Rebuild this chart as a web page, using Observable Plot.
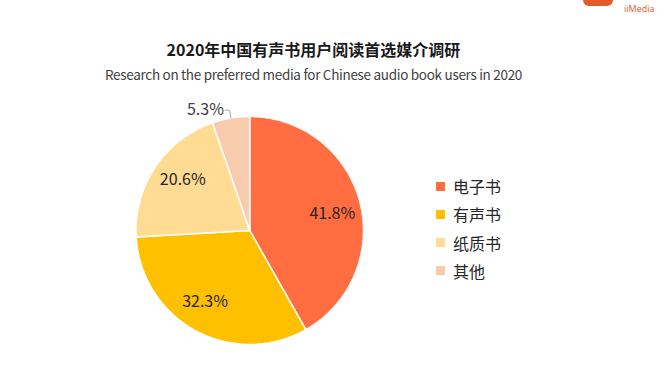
<!DOCTYPE html>
<html>
<head>
<meta charset="utf-8">
<script src="https://cdn.jsdelivr.net/npm/d3@7"></script>
<script src="https://cdn.jsdelivr.net/npm/@observablehq/plot@0.6"></script>
<style>
  html, body { margin: 0; padding: 0; background: #fff; }
  body { width: 669px; height: 370px; position: relative; overflow: hidden;
         font-family: "Noto Sans CJK SC", "Noto Sans", sans-serif; }
  .title { position: absolute; left: 0; width: 627px; top: 38px; text-align: center;
           font-size: 16px; line-height: 22px; font-weight: bold; color: #1a1a1a; }
  .subtitle { position: absolute; left: 0; width: 627px; top: 64px; text-align: center;
              font-size: 13.5px; line-height: 20px; letter-spacing: -0.3px; color: #404040; }
  #chart { position: absolute; left: 0; top: 90px; }
  .legend-item { position: absolute; left: 436px; height: 24px; display: flex; align-items: center;
                 font-size: 16px; color: #262626; }
  .legend-item .sw { width: 9px; height: 9px; margin-right: 8px; }
  .logo { position: absolute; left: 624px; top: 3px; font-size: 9px; line-height: 12px; color: #E2592B;
          font-family: "Open Sans", sans-serif; white-space: nowrap; }
  .logo-mark { position: absolute; left: 583px; top: -6px; width: 30px; height: 12px;
               background: #E2592B; border-radius: 6px; }
</style>
</head>
<body>
<div class="logo-mark"></div>
<div class="logo">iiMedia</div>
<div class="title">2020年中国有声书用户阅读首选媒介调研</div>
<div class="subtitle">Research on the preferred media for Chinese audio book users in 2020</div>
<div id="chart"></div>
<div id="legend"></div>
<script>
const categories = ["电子书", "有声书", "纸质书", "其他"];
const values = [41.8, 32.3, 20.6, 5.3];
const colors = ["#FF6D40", "#FFC000", "#FFDB94", "#F8CBAD"];
const labels = values.map(v => v.toFixed(1) + "%");

// build slice polygons (angle measured clockwise from top)
const total = d3.sum(values);
let acc = 0;
const slices = categories.map((c, i) => {
  const a0 = acc / total * 2 * Math.PI;
  acc += values[i];
  const a1 = acc / total * 2 * Math.PI;
  return {key: c, a0, a1, mid: (a0 + a1) / 2, label: labels[i], share: values[i] / total};
});
const pts = [];
for (const s of slices) {
  pts.push({key: s.key, x: 0, y: 0});
  const n = Math.max(2, Math.ceil((s.a1 - s.a0) / (Math.PI / 180)));
  for (let k = 0; k <= n; k++) {
    const a = s.a0 + (s.a1 - s.a0) * k / n;
    pts.push({key: s.key, x: Math.sin(a), y: Math.cos(a)});
  }
  pts.push({key: s.key, x: 0, y: 0});
}
const inside = slices.filter(s => s.share > 0.1).map(s => ({
  x: 0.74 * Math.sin(s.mid + 0.06), y: 0.74 * Math.cos(s.mid + 0.06), text: s.label
}));
const small = slices.filter(s => s.share <= 0.1);
const leader = [];
const outside = [];
small.forEach((s, i) => {
  const e = {x: Math.sin(s.mid), y: Math.cos(s.mid)};
  const m = {x: 1.07 * Math.sin(s.mid), y: 1.07 * Math.cos(s.mid)};
  const t = {x: m.x - 0.04, y: m.y};
  leader.push({g: i, ...e}, {g: i, ...m}, {g: i, ...t});
  outside.push({x: t.x - 0.01, y: t.y, text: s.label});
});

const plot = Plot.plot({
  width: 669, height: 280,
  marginLeft: 135.5, marginRight: 306, marginTop: 26, marginBottom: 26,
  x: {domain: [-1, 1], axis: null},
  y: {domain: [-1, 1], axis: null},
  color: {domain: categories, range: colors},
  style: {fontFamily: '"Noto Sans CJK SC", "Noto Sans", sans-serif', background: "transparent"},
  marks: [
    Plot.line(pts, {x: "x", y: "y", z: "key", fill: "key", stroke: "white", strokeWidth: 1.5, strokeLinejoin: "round"}),
    Plot.text(inside, {x: "x", y: "y", text: "text", fontSize: 16, fill: "#262626"}),
    Plot.line(leader, {x: "x", y: "y", z: "g", stroke: "#a6a6a6", strokeWidth: 1}),
    Plot.text(outside, {x: "x", y: "y", text: "text", textAnchor: "end", fontSize: 16, fill: "#404040"})
  ]
});
document.getElementById("chart").appendChild(plot);

const legend = d3.select("#legend");
categories.forEach((c, i) => {
  const item = legend.append("div").attr("class", "legend-item").style("top", (174 + i * 28.3) + "px");
  item.append("div").attr("class", "sw").style("background", colors[i]);
  item.append("span").text(c);
});
</script>
</body>
</html>
